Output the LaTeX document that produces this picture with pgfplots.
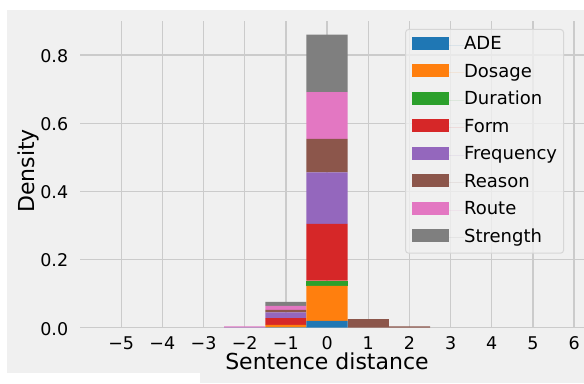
\documentclass[border=0pt]{standalone}
\usepackage{pgfplots}
\pgfplotsset{compat=1.18}
\usepackage{fontspec}
\setmainfont{DejaVu Sans}
\definecolor{c1}{HTML}{1F77B4}
\definecolor{c2}{HTML}{FF7F0E}
\definecolor{c3}{HTML}{2CA02C}
\definecolor{c4}{HTML}{D62728}
\definecolor{c5}{HTML}{9467BD}
\definecolor{c6}{HTML}{8C564B}
\definecolor{c7}{HTML}{E377C2}
\definecolor{c8}{HTML}{7F7F7F}
\definecolor{bgc}{HTML}{F0F0F0}
\definecolor{gridc}{HTML}{CBCBCB}
\definecolor{lgc}{HTML}{D6D6D6}
\pgfplotsset{mylegend/.style={legend image code/.code={\fill[##1,fill opacity=1,sharp corners] (0bp,-4.5bp) rectangle (37bp,8.5bp); \path (0bp,0bp) -- (52bp,0bp);}}}
\begin{document}
\begin{tikzpicture}[x=1bp,y=1bp]
\path[use as bounding box] (0,0) rectangle (584,383);
\fill[white] (0,0) rectangle (584,383);
\fill[bgc] (7,10) rectangle (584,373);
\fill[bgc] (200,0) rectangle (584,10);
\begin{axis}[
  at={(80bp,55.3bp)}, anchor=south west,
  scale only axis, width=504bp, height=306.7bp,
  xmin=-6, xmax=6.24, ymin=0, ymax=0.9,
  ybar stacked, bar width=1,
  axis line style={draw=none}, tick style={draw=none},
  xmajorgrids, ymajorgrids,
  grid style={color=gridc, line width=1.3bp},
  xtick={-5,-4,-3,-2,-1,0,1,2,3,4,5,6},
  xticklabels={−5,−4,−3,−2,−1,0,1,2,3,4,5,6},
  ytick={0,0.2,0.4,0.6,0.8},
  yticklabels={0.0,0.2,0.4,0.6,0.8},
  ticklabel style={font=\fontsize{17.5bp}{21bp}\selectfont},
  xticklabel style={anchor=base, yshift=-21.6bp},
  yticklabel style={anchor=base east, xshift=-8.3bp, yshift=-7.3bp},
  xlabel={Sentence distance},
  ylabel={Density},
  label style={font=\fontsize{22bp}{26bp}\selectfont},
  xlabel style={at={(axis description cs:0.49,0)}, anchor=base, yshift=-41.5bp},
  ylabel style={at={(axis description cs:-0.09,0.511)}, anchor=base},
  legend style={at={(axis description cs:0.645,0.974)}, anchor=north west,
    draw=lgc, fill=bgc, fill opacity=0.8, text opacity=1, draw opacity=1,
    rounded corners=3bp, line width=1bp,
    font=\fontsize{18bp}{22bp}\selectfont,
    inner xsep=6.5bp, inner ysep=7bp, row sep=10.3bp,
    nodes={inner sep=0bp, text height=13.2bp, text depth=4bp}},
  legend cell align=left,
]
\addplot[fill=c1, draw=none, mylegend] coordinates {(-2,0) (-1,0.001) (0,0.020) (1,0) (2,0)};
\addplot[fill=c2, draw=none, mylegend] coordinates {(-2,0) (-1,0.007) (0,0.103) (1,0) (2,0)};
\addplot[fill=c3, draw=none, mylegend] coordinates {(-2,0) (-1,0) (0,0.015) (1,0) (2,0)};
\addplot[fill=c4, draw=none, mylegend] coordinates {(-2,0) (-1,0.020) (0,0.167) (1,0) (2,0)};
\addplot[fill=c5, draw=none, mylegend] coordinates {(-2,0.001) (-1,0.017) (0,0.151) (1,0) (2,0)};
\addplot[fill=c6, draw=none, mylegend] coordinates {(-2,0) (-1,0.007) (0,0.098) (1,0.025) (2,0.004)};
\addplot[fill=c7, draw=none, mylegend] coordinates {(-2,0.003) (-1,0.012) (0,0.137) (1,0) (2,0)};
\addplot[fill=c8, draw=none, mylegend] coordinates {(-2,0) (-1,0.012) (0,0.169) (1,0) (2,0)};
\legend{ADE,Dosage,Duration,Form,Frequency,Reason,Route,Strength}
\end{axis}
\end{tikzpicture}
\end{document}
